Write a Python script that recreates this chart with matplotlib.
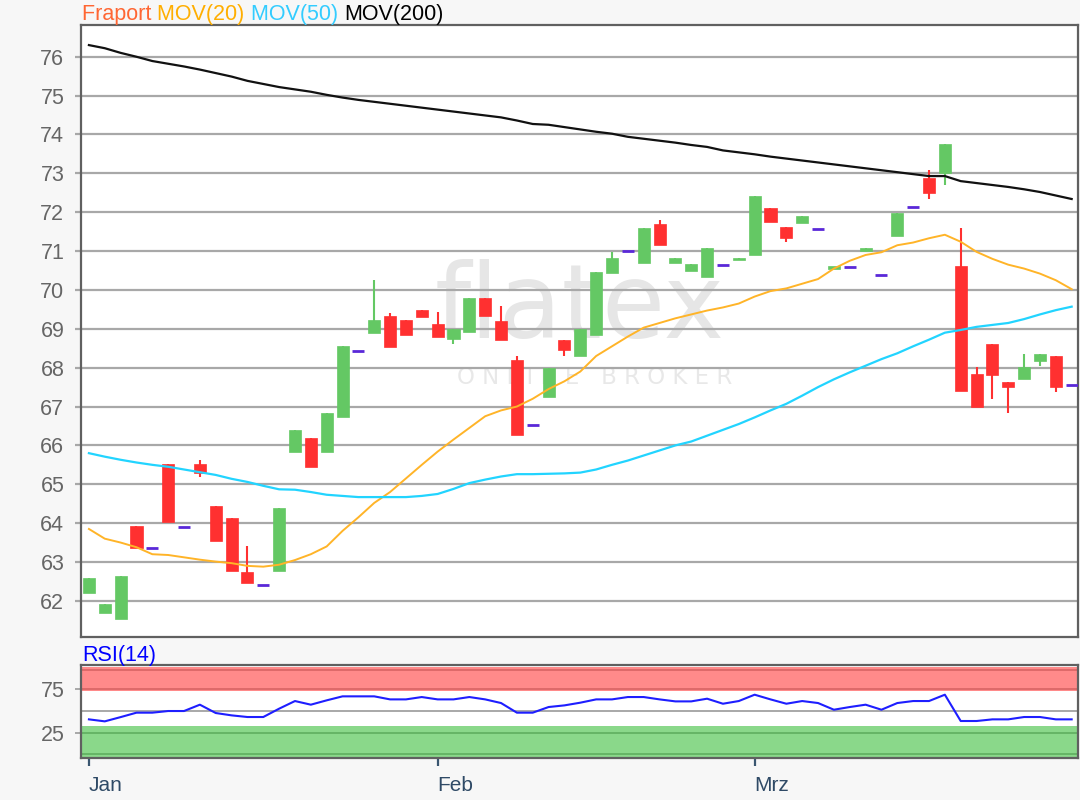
import matplotlib
matplotlib.use('Agg')
import matplotlib.pyplot as plt
import numpy as np

plt.rcParams['font.family'] = ['Liberation Sans', 'DejaVu Sans']

# ---------------- data ----------------
opens = [62.21, 61.68, 61.53, 63.93, 63.35, 65.52, 63.91, 65.52, 64.44, 64.13,
         62.74, 62.42, 62.76, 65.84, 66.19, 65.84, 66.73, 68.44, 68.88, 69.33,
         69.23, 69.49, 69.13, 68.73, 68.93, 69.79, 69.21, 68.20, 66.53, 67.24,
         68.70, 68.31, 68.84, 70.43, 71.01, 70.69, 71.69, 70.69, 70.49, 70.33,
         70.64, 70.77, 70.89, 72.10, 71.63, 71.71, 71.57, 70.55, 70.60, 71.01,
         70.39, 71.40, 72.14, 72.89, 73.02, 70.62, 67.83, 68.61, 67.63, 67.70,
         68.17, 68.30, 67.56]
highs = [62.59, 61.92, 62.64, 63.93, 63.35, 65.52, 63.91, 65.63, 64.44, 64.13,
         63.41, 62.42, 64.38, 66.40, 66.19, 66.84, 68.56, 68.44, 70.26, 69.40,
         69.23, 69.49, 69.44, 68.99, 69.79, 69.79, 69.59, 68.30, 66.53, 68.00,
         68.70, 68.99, 70.46, 70.98, 71.01, 71.59, 71.80, 70.81, 70.66, 71.07,
         70.64, 70.83, 72.42, 72.10, 71.63, 71.90, 71.57, 70.60, 70.60, 71.07,
         70.39, 71.99, 72.14, 73.09, 73.75, 71.59, 68.01, 68.61, 67.63, 68.35,
         68.35, 68.30, 67.56]
lows = [62.21, 61.68, 61.53, 63.37, 63.35, 64.04, 63.91, 65.18, 63.53, 62.76,
        62.46, 62.42, 62.76, 65.84, 65.44, 65.84, 66.73, 68.44, 68.88, 68.53,
        68.83, 69.30, 68.78, 68.61, 68.93, 69.34, 68.71, 66.27, 66.53, 67.24,
        68.30, 68.31, 68.84, 70.43, 71.01, 70.69, 71.16, 70.69, 70.49, 70.33,
        70.64, 70.77, 70.89, 71.76, 71.24, 71.71, 71.57, 70.55, 70.60, 71.01,
        70.39, 71.40, 72.14, 72.33, 72.70, 67.40, 67.00, 67.19, 66.83, 67.70,
        68.04, 67.38, 67.56]
closes = [62.59, 61.92, 62.64, 63.37, 63.35, 64.04, 63.91, 65.29, 63.53, 62.76,
          62.46, 62.42, 64.38, 66.40, 65.44, 66.84, 68.56, 68.44, 69.23, 68.53,
          68.83, 69.30, 68.78, 68.99, 69.79, 69.34, 68.71, 66.27, 66.53, 68.00,
          68.46, 68.99, 70.46, 70.81, 71.01, 71.59, 71.16, 70.81, 70.66, 71.07,
          70.64, 70.83, 72.42, 71.76, 71.34, 71.90, 71.57, 70.60, 70.60, 71.07,
          70.39, 71.99, 72.14, 72.49, 73.75, 67.40, 67.00, 67.81, 67.50, 68.01,
          68.35, 67.50, 67.56]

ma20 = [63.85, 63.60, 63.50, 63.38, 63.20, 63.18, 63.12, 63.06, 63.01, 62.97,
        62.90, 62.88, 62.93, 63.05, 63.20, 63.40, 63.80, 64.15, 64.52, 64.80,
        65.15, 65.50, 65.84, 66.15, 66.45, 66.75, 66.90, 67.00, 67.20, 67.45,
        67.65, 67.90, 68.30, 68.55, 68.80, 69.03, 69.15, 69.27, 69.37, 69.47,
        69.55, 69.65, 69.83, 69.97, 70.04, 70.16, 70.28, 70.55, 70.75, 70.90,
        70.97, 71.15, 71.22, 71.33, 71.42, 71.24, 70.98, 70.80, 70.65, 70.55,
        70.42, 70.25, 70.02]
ma50 = [65.80, 65.71, 65.63, 65.56, 65.50, 65.45, 65.38, 65.31, 65.24, 65.14,
        65.06, 64.96, 64.87, 64.86, 64.80, 64.73, 64.70, 64.67, 64.67, 64.67,
        64.67, 64.70, 64.75, 64.88, 65.03, 65.12, 65.20, 65.26, 65.26, 65.27,
        65.28, 65.30, 65.38, 65.50, 65.61, 65.74, 65.87, 66.00, 66.10, 66.25,
        66.40, 66.55, 66.72, 66.90, 67.07, 67.28, 67.50, 67.70, 67.88, 68.05,
        68.22, 68.37, 68.55, 68.72, 68.90, 68.97, 69.05, 69.10, 69.15, 69.25,
        69.37, 69.48, 69.57]
ma200 = [76.30, 76.22, 76.10, 76.00, 75.89, 75.82, 75.75, 75.67, 75.58, 75.49,
         75.38, 75.30, 75.22, 75.16, 75.10, 75.02, 74.95, 74.89, 74.84, 74.79,
         74.74, 74.69, 74.64, 74.59, 74.54, 74.49, 74.44, 74.36, 74.27, 74.25,
         74.19, 74.13, 74.07, 74.02, 73.94, 73.89, 73.84, 73.79, 73.73, 73.68,
         73.59, 73.54, 73.49, 73.43, 73.38, 73.33, 73.28, 73.23, 73.18, 73.13,
         73.08, 73.03, 72.98, 72.93, 72.93, 72.80, 72.75, 72.70, 72.65, 72.59,
         72.52, 72.43, 72.34]
rsi = [40.4, 38.1, 43.0, 48.1, 48.1, 50.0, 50.0, 57.3, 47.7, 45.0,
       43.1, 43.1, 52.7, 61.5, 57.3, 62.3, 66.9, 66.9, 66.9, 63.4,
       63.4, 66.1, 63.4, 63.4, 66.1, 63.4, 59.2, 48.1, 48.1, 54.6,
       56.5, 59.6, 63.4, 63.4, 66.1, 66.1, 63.4, 61.1, 61.1, 64.2,
       58.4, 61.5, 68.8, 63.4, 58.4, 61.5, 59.2, 51.5, 54.6, 57.3,
       51.5, 59.2, 61.5, 61.5, 68.8, 38.5, 38.5, 40.4, 40.4, 43.1,
       43.1, 40.4, 40.4]

month_labels = ['Jan', 'Feb', 'Mrz']
month_starts = [0, 22, 42]
price_ticks = list(range(62, 77))
rsi_ticks = [25, 75]

# ---------------- styling ----------------
W, H = 1080, 800
BG = '#f7f7f7'
GREEN = '#64c864'
RED = '#ff3030'
FLAT = '#5a28d8'
GRID = '#a8a8a8'
SPINE = '#606060'
TICKC = '#666666'

fig = plt.figure(figsize=(W / 100, H / 100), dpi=100, facecolor=BG)

def axrect(l, t, r, b):
    return [l / W, 1 - b / H, (r - l) / W, (b - t) / H]

ax = fig.add_axes(axrect(81, 24.5, 1078, 637))
axr = fig.add_axes(axrect(81, 665, 1078, 758))

x = np.arange(len(opens))
o = np.array(opens); h = np.array(highs); l = np.array(lows); c = np.array(closes)
flat = (o == c) & (h == l)
up = (c >= o) & ~flat
dn = (c < o) & ~flat
bw = 0.76

# watermark
ax.text(0.50, 0.535, 'flatex', transform=ax.transAxes, ha='center', va='center',
        fontsize=74, color='#e6e6e6', family='DejaVu Sans', zorder=0.5)
ax.text(0.515, 0.423, 'O N L I N E   B R O K E R', transform=ax.transAxes, ha='center',
        va='center', fontsize=16.5, color='#e8e8e8', family='DejaVu Sans', zorder=0.5)

for mask, col in ((up, GREEN), (dn, RED)):
    ax.vlines(x[mask], l[mask], h[mask], color=col, lw=1.5, zorder=3)
    bottom = np.minimum(o[mask], c[mask])
    height = np.maximum(np.abs(c[mask] - o[mask]), 0.06)
    ax.bar(x[mask], height, bw, bottom=bottom, color=col, edgecolor=col, lw=0.5, zorder=4)
ax.hlines(c[flat], x[flat] - bw / 2, x[flat] + bw / 2, color=FLAT, lw=2.0, zorder=4)

ax.plot(x, ma200, color='#111111', lw=1.6, zorder=5)
ax.plot(x, ma20, color='#ffb428', lw=1.4, zorder=5)
ax.plot(x, ma50, color='#22d4ff', lw=1.6, zorder=5)

ax.set_xlim(-0.5, 62.4)
ax.set_ylim(61.07, 76.83)
ax.set_yticks(price_ticks)
ax.set_yticklabels([str(v) for v in price_ticks])
ax.yaxis.grid(True, color=GRID, lw=1.6, zorder=1)
ax.set_axisbelow(True)
ax.set_xticks([])
ax.tick_params(axis='y', length=4, width=1.6, color=GRID, labelcolor=TICKC,
               labelsize=15.5, pad=8)
for s in ax.spines.values():
    s.set_color(SPINE)
    s.set_linewidth(1.6)
ax.set_facecolor('white')

# title legend
parts = [('Fraport ', '#ff6633'), ('MOV(20) ', '#ffae00'), ('MOV(50) ', '#33ccff'), ('MOV(200)', '#000000')]
fig.canvas.draw()
renderer = fig.canvas.get_renderer()
xpos = 82 / W
for txt, col in parts:
    t = fig.text(xpos, 1 - 20 / H, txt, color=col, fontsize=15.5, ha='left', va='baseline')
    bb = t.get_window_extent(renderer=renderer)
    xpos += bb.width / W

# RSI panel
axr.set_facecolor('white')
axr.axhspan(73, 101, color='#ff8a8a', zorder=1, lw=0)
axr.axhline(97.3, color='#d86464', lw=1.2, zorder=1.5)
axr.axhline(75, color='#d86464', lw=1.2, zorder=1.5)
axr.axhspan(-2.6, 32.7, color='#8ad88a', zorder=1, lw=0)
axr.axhline(25, color='#5fae5f', lw=1.2, zorder=1.5)
axr.axhline(0.5, color='#5fae5f', lw=1.2, zorder=1.5)
axr.axhline(50, color=GRID, lw=1.4, zorder=1.5)
axr.plot(x, rsi, color='#1e1eff', lw=1.5, zorder=3)
axr.set_xlim(-0.5, 62.4)
axr.set_ylim(-4.1, 103)
axr.set_yticks(rsi_ticks)
axr.set_yticklabels([str(v) for v in rsi_ticks])
axr.tick_params(axis='y', length=4, width=1.4, color=GRID, labelcolor=TICKC,
                labelsize=15.5, pad=8)
axr.set_xticks(month_starts)
axr.set_xticklabels(month_labels, ha='left')
axr.tick_params(axis='x', length=6, width=1.6, color='#3a5670', labelcolor='#2f4a66',
                labelsize=15, pad=7)
for s in axr.spines.values():
    s.set_color(SPINE)
    s.set_linewidth(1.6)
fig.text(82 / W, 1 - 661 / H, 'RSI(14)', color='#0000ff', fontsize=15.5, ha='left', va='baseline')

fig.savefig('out.png', dpi=100, facecolor=BG)
